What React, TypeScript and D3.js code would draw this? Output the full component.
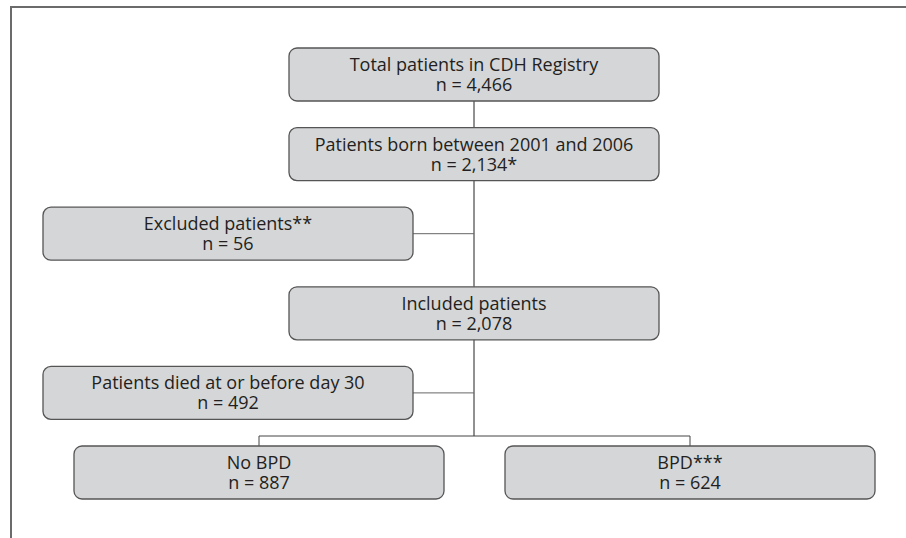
import React from 'react';
import * as d3 from 'd3';

// flowchart nodes
const titles = [
  'Total patients in CDH Registry',
  'Patients born between 2001 and 2006',
  'Excluded patients**',
  'Included patients',
  'Patients died at or before day 30',
  'No BPD',
  'BPD***',
];
const counts = ['4,466', '2,134*', '56', '2,078', '492', '887', '624'];
const rows = [0, 1, 2, 3, 4, 5, 5];
const columns = ['main', 'main', 'side', 'main', 'side', 'left', 'right'];

const W = 906;
const H = 538;
const boxW = 370;
const boxH = 53;

export default function App() {
  const y = d3.scaleLinear().domain([0, 5]).range([48, 446]);
  const colX: Record<string, number> = { main: 289, side: 43, left: 74, right: 505 };
  const mainCx = colX.main + boxW / 2;

  const nodes = titles.map((t, i) => ({
    title: t,
    count: counts[i],
    x: colX[columns[i]],
    y: y(rows[i]),
  }));

  const splitY = y(5) - 10;
  const leftCx = colX.left + boxW / 2;
  const rightCx = colX.right + boxW / 2;

  return (
    <svg width={W} height={H} style={{ position: 'absolute', left: 0, top: 0 }}>
      <rect width={W} height={H} fill="#fff" />
      {/* frame */}
      <path d={`M11,${H} V7 H${W}`} fill="none" stroke="#6b6b6b" strokeWidth={2} />

      {/* trunk */}
      <line x1={mainCx} x2={mainCx} y1={y(0) + boxH} y2={splitY} stroke="#222" strokeWidth={1} />
      {/* side branches */}
      {nodes.filter((_, i) => columns[i] === 'side').map((n, i) => (
        <line key={i} x1={n.x + boxW} x2={mainCx} y1={n.y + boxH / 2} y2={n.y + boxH / 2} stroke="#666" strokeWidth={1} />
      ))}
      {/* split */}
      <path d={`M${leftCx},${y(5)} V${splitY} H${rightCx} V${y(5)}`} fill="none" stroke="#444" strokeWidth={1} />

      {nodes.map((n, i) => (
        <g key={i} transform={`translate(${n.x},${n.y})`}>
          <rect width={boxW} height={boxH} rx={8} ry={8} fill="#d5d6d8" stroke="#555" strokeWidth={1.3} />
          <text x={boxW / 2} y={23} textAnchor="middle" fontFamily="Open Sans" fontSize={18} fill="#231f20">
            {n.title}
          </text>
          <text x={boxW / 2} y={43} textAnchor="middle" fontFamily="Open Sans" fontSize={18} fill="#231f20">
            {`n = ${n.count}`}
          </text>
        </g>
      ))}
    </svg>
  );
}
